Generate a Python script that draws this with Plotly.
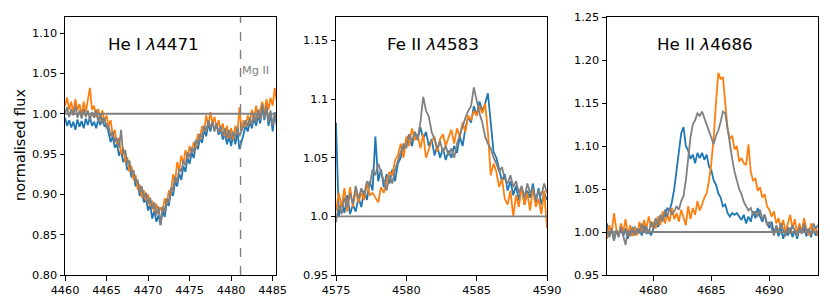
import numpy as np
import plotly.graph_objects as go

# ---------------- data ----------------
# Panel 1: He I 4471 (sampling 0.25 A from 4460.0)
wl1_start, wl1_step, n1 = 4460.0, 0.25, 103
hei_blue = [0.995, 0.985, 0.992, 0.983, 0.990, 0.980, 0.993, 0.984, 0.991, 0.982,
            0.994, 0.986, 0.996, 0.985, 0.990, 0.982, 0.993, 0.986, 0.995, 0.984,
            0.988, 0.976, 0.965, 0.972, 0.958, 0.963, 0.948, 0.955, 0.940, 0.946,
            0.930, 0.936, 0.921, 0.926, 0.910, 0.914, 0.898, 0.904, 0.890, 0.895,
            0.880, 0.888, 0.870, 0.880, 0.866, 0.874, 0.862, 0.880, 0.872, 0.890,
            0.886, 0.905, 0.898, 0.916, 0.910, 0.926, 0.918, 0.935, 0.928, 0.945,
            0.938, 0.952, 0.945, 0.962, 0.956, 0.970, 0.964, 0.980, 0.972, 0.988,
            0.978, 0.990, 0.980, 0.986, 0.974, 0.980, 0.968, 0.976, 0.962, 0.972,
            0.960, 0.974, 0.962, 0.978, 0.956, 0.965, 0.975, 0.985, 0.978, 0.990,
            0.982, 0.995, 0.985, 0.998, 0.988, 1.008, 0.992, 1.012, 0.985, 1.000,
            0.978, 1.002, 0.985]
hei_orange = [1.010, 1.020, 1.005, 1.015, 1.000, 1.018, 1.004, 1.012, 0.998, 1.015,
              1.002, 1.020, 1.032, 1.005, 1.010, 0.996, 1.006, 0.992, 1.004, 0.990,
              0.998, 0.985, 0.992, 0.972, 0.980, 0.962, 0.970, 0.950, 0.958, 0.940,
              0.946, 0.928, 0.935, 0.918, 0.924, 0.906, 0.912, 0.896, 0.905, 0.892,
              0.900, 0.885, 0.892, 0.878, 0.888, 0.876, 0.884, 0.878, 0.895, 0.888,
              0.905, 0.900, 0.925, 0.915, 0.940, 0.930, 0.948, 0.938, 0.955, 0.945,
              0.960, 0.952, 0.965, 0.958, 0.975, 0.968, 0.985, 0.978, 0.998, 0.985,
              1.002, 0.988, 0.996, 0.982, 0.992, 0.978, 0.988, 0.972, 0.985, 0.970,
              0.982, 0.968, 0.985, 0.975, 1.008, 0.980, 0.992, 0.984, 0.998, 0.988,
              1.005, 0.992, 1.010, 0.995, 1.005, 1.015, 1.000, 1.018, 1.005, 1.020,
              1.010, 1.032, 1.015]
hei_grey = [1.000, 1.008, 0.996, 1.006, 0.998, 1.010, 0.995, 1.004, 0.994, 1.006,
            0.996, 1.004, 0.992, 1.002, 0.995, 1.005, 0.990, 1.000, 0.988, 0.995,
            0.982, 0.985, 0.972, 0.978, 0.965, 0.970, 0.958, 0.980, 0.950, 0.955,
            0.938, 0.942, 0.926, 0.930, 0.915, 0.918, 0.902, 0.910, 0.895, 0.902,
            0.888, 0.896, 0.882, 0.890, 0.874, 0.885, 0.862, 0.885, 0.878, 0.895,
            0.890, 0.908, 0.905, 0.922, 0.915, 0.932, 0.928, 0.942, 0.936, 0.952,
            0.946, 0.958, 0.952, 0.968, 0.962, 0.975, 0.970, 0.985, 0.978, 0.992,
            0.982, 0.990, 0.978, 0.988, 0.976, 0.985, 0.972, 0.982, 0.970, 0.980,
            0.968, 0.978, 0.970, 0.984, 0.972, 0.980, 0.985, 0.992, 0.984, 0.995,
            0.986, 1.000, 0.990, 1.005, 0.992, 1.012, 0.995, 1.008, 0.990, 1.004,
            0.985, 1.000, 0.988]

# Panel 2: Fe II 4583 (sampling 0.2 A from 4575.0)
wl2_start, wl2_step, n2 = 4575.0, 0.2, 76
feii_blue = [1.080, 1.000, 1.012, 1.003, 1.018, 1.002, 1.010, 1.004, 1.016, 1.008,
             1.022, 1.014, 1.030, 1.022, 1.068, 1.030, 1.040, 1.025, 1.036, 1.028,
             1.040, 1.030, 1.045, 1.050, 1.058, 1.064, 1.070, 1.060, 1.072, 1.065,
             1.076, 1.066, 1.072, 1.060, 1.066, 1.052, 1.060, 1.050, 1.058, 1.048,
             1.056, 1.050, 1.060, 1.054, 1.068, 1.060, 1.075, 1.085, 1.080, 1.094,
             1.086, 1.098, 1.090, 1.096, 1.105, 1.080, 1.055, 1.050, 1.040, 1.030,
             1.036, 1.022, 1.030, 1.018, 1.026, 1.014, 1.025, 1.010, 1.022, 1.016,
             1.028, 1.012, 1.024, 1.010, 1.020, 1.014]
feii_orange = [1.005, 1.020, 1.008, 1.024, 1.004, 1.025, 1.008, 1.022, 1.012, 1.020,
               1.014, 1.028, 1.018, 1.020, 1.016, 1.012, 1.025, 1.020, 1.030, 1.038,
               1.035, 1.048, 1.052, 1.062, 1.050, 1.068, 1.060, 1.075, 1.065, 1.070,
               1.058, 1.070, 1.050, 1.058, 1.064, 1.068, 1.055, 1.066, 1.070, 1.060,
               1.068, 1.074, 1.062, 1.075, 1.068, 1.080, 1.072, 1.086, 1.082, 1.090,
               1.086, 1.094, 1.088, 1.096, 1.072, 1.035, 1.045, 1.038, 1.025, 1.032,
               1.015, 1.010, 1.022, 1.000, 1.018, 1.008, 1.025, 1.010, 1.020, 1.005,
               1.024, 1.008, 1.015, 1.002, 1.022, 0.990]
feii_grey = [0.995, 1.010, 1.002, 1.016, 1.008, 1.020, 1.010, 1.026, 1.015, 1.024,
             1.018, 1.030, 1.026, 1.040, 1.035, 1.045, 1.038, 1.030, 1.022, 1.035,
             1.028, 1.040, 1.048, 1.056, 1.062, 1.058, 1.070, 1.064, 1.072, 1.066,
             1.080, 1.102, 1.090, 1.085, 1.072, 1.066, 1.058, 1.064, 1.055, 1.060,
             1.052, 1.058, 1.050, 1.062, 1.070, 1.078, 1.084, 1.090, 1.094, 1.110,
             1.098, 1.088, 1.080, 1.068, 1.062, 1.058, 1.050, 1.045, 1.038, 1.042,
             1.032, 1.028, 1.035, 1.025, 1.030, 1.020, 1.026, 1.016, 1.028, 1.020,
             1.024, 1.014, 1.022, 1.018, 1.028, 1.020]

# Panel 3: He II 4686 (sampling 0.2 A from 4676.0)
wl3_start, wl3_step, n3 = 4676.0, 0.2, 92
heii_blue = [1.010, 0.995, 1.005, 0.990, 1.002, 0.994, 1.006, 0.995, 1.004, 0.992,
             1.002, 0.996, 1.006, 0.998, 1.004, 0.996, 1.008, 0.998, 1.002, 0.996,
             1.004, 1.010, 1.006, 1.014, 1.020, 1.018, 1.028, 1.025, 1.035, 1.050,
             1.070, 1.090, 1.115, 1.122, 1.100, 1.095, 1.085, 1.090, 1.080, 1.092,
             1.086, 1.092, 1.084, 1.090, 1.076, 1.072, 1.060, 1.055, 1.045, 1.040,
             1.030, 1.032, 1.022, 1.018, 1.022, 1.020, 1.022, 1.018, 1.014, 1.020,
             1.010, 1.018, 1.012, 1.024, 1.016, 1.028, 1.018, 1.012, 1.020, 1.010,
             1.005, 1.012, 0.998, 1.006, 0.995, 1.004, 0.992, 1.002, 0.996, 1.005,
             0.994, 1.002, 0.992, 1.004, 0.998, 1.006, 0.995, 1.002, 0.994, 1.004,
             0.996, 1.000]
heii_orange = [0.992, 1.008, 0.998, 1.022, 1.004, 0.995, 1.010, 1.000, 1.015, 0.996,
               1.008, 0.995, 1.005, 0.996, 1.012, 1.000, 1.014, 1.004, 1.018, 1.006,
               1.012, 1.004, 1.018, 1.008, 1.024, 1.010, 1.020, 1.012, 1.028, 1.015,
               1.022, 1.012, 1.026, 1.018, 1.008, 1.030, 1.015, 1.028, 1.020, 1.036,
               1.025, 1.032, 1.040, 1.045, 1.060, 1.080, 1.110, 1.150, 1.185, 1.178,
               1.180, 1.150, 1.120, 1.108, 1.112, 1.096, 1.100, 1.082, 1.086, 1.080,
               1.078, 1.102, 1.070, 1.060, 1.062, 1.048, 1.052, 1.040, 1.044, 1.030,
               1.026, 1.018, 1.024, 1.010, 1.016, 1.004, 1.014, 1.000, 1.010, 1.020,
               1.004, 1.015, 0.998, 1.010, 1.000, 1.016, 1.004, 0.996, 1.010, 1.000,
               1.006, 0.995]
heii_grey = [1.000, 0.994, 1.004, 0.990, 1.002, 0.996, 1.006, 0.994, 0.985, 1.002,
             0.995, 1.006, 0.996, 1.004, 0.998, 1.010, 1.000, 1.006, 0.998, 1.012,
             1.004, 1.016, 1.008, 1.020, 1.012, 1.026, 1.018, 1.028, 1.020, 1.024,
             1.030, 1.026, 1.036, 1.042, 1.060, 1.085, 1.110, 1.125, 1.130, 1.138,
             1.135, 1.140, 1.132, 1.125, 1.118, 1.108, 1.102, 1.112, 1.118, 1.128,
             1.140, 1.138, 1.120, 1.100, 1.085, 1.070, 1.060, 1.050, 1.044, 1.035,
             1.030, 1.025, 1.028, 1.020, 1.024, 1.018, 1.026, 1.015, 1.020, 1.008,
             1.012, 1.004, 0.996, 1.008, 1.000, 1.010, 1.002, 0.995, 1.006, 0.998,
             1.008, 1.002, 0.995, 1.006, 0.998, 1.010, 1.000, 1.004, 0.996, 1.010,
             1.004, 1.008]

titles = ["He I <i>λ</i>4471", "Fe II <i>λ</i>4583", "He II <i>λ</i>4686"]
x_ranges = [[4460, 4485.4], [4575, 4590], [4676, 4694.2]]
y_ranges = [[0.80, 1.12], [0.95, 1.17], [0.95, 1.25]]
x_ticks = [[4460, 4465, 4470, 4475, 4480, 4485], [4575, 4580, 4585, 4590], [4680, 4685, 4690]]
y_ticks = [[0.80, 0.85, 0.90, 0.95, 1.00, 1.05, 1.10],
           [0.95, 1.00, 1.05, 1.10, 1.15],
           [0.95, 1.00, 1.05, 1.10, 1.15, 1.20, 1.25]]
y_ticktext = [["0.80", "0.85", "0.90", "0.95", "1.00", "1.05", "1.10"],
              ["0.95", "1.0", "1.05", "1.1", "1.15"],
              ["0.95", "1.00", "1.05", "1.10", "1.15", "1.20", "1.25"]]
mg_ii_wl = 4481.13
mg_ii_label = "Mg II"
continuum = 1.0

# ---------------- figure ----------------
W, H = 830, 307
OFF = 8  # page body margin offset in the browser


def px_x(p):
    return (p - OFF) / W


def px_y(p):
    return 1 - (p - OFF) / H


colors = {"blue": "#1f77b4", "orange": "#ff7f0e", "grey": "#808080"}
panels = [
    (wl1_start, wl1_step, n1, hei_blue, hei_orange, hei_grey),
    (wl2_start, wl2_step, n2, feii_blue, feii_orange, feii_grey),
    (wl3_start, wl3_step, n3, heii_blue, heii_orange, heii_grey),
]
x_domains = [[px_x(65), px_x(276)], [px_x(336), px_x(547)], [px_x(607), px_x(818)]]
y_domain = [px_y(275), px_y(17)]
title_x = [px_x(153), px_x(433), px_x(705)]
title_y = px_y(44)

fig = go.Figure()
for k, (start, step, n, b, o, g) in enumerate(panels):
    wl = np.round(start + step * np.arange(n), 3)
    xa = "x" if k == 0 else f"x{k+1}"
    ya = "y" if k == 0 else f"y{k+1}"
    for vals, c in ((b, "blue"), (o, "orange"), (g, "grey")):
        fig.add_trace(go.Scatter(x=wl, y=vals, mode="lines", xaxis=xa, yaxis=ya,
                                 line=dict(color=colors[c], width=1.8),
                                 showlegend=False, hoverinfo="skip"))
    fig.add_trace(go.Scatter(x=x_ranges[k], y=[continuum, continuum], mode="lines",
                             xaxis=xa, yaxis=ya, line=dict(color="#808080", width=1.8),
                             showlegend=False, hoverinfo="skip"))
    axis_common = dict(showline=True, mirror=True, linecolor="black", linewidth=1,
                       ticks="outside", ticklen=4.5, tickwidth=1, tickcolor="black",
                       showgrid=False, zeroline=False, automargin=False,
                       tickfont=dict(size=11.3, color="black", family="DejaVu Sans"))
    xkey = "xaxis" if k == 0 else f"xaxis{k+1}"
    ykey = "yaxis" if k == 0 else f"yaxis{k+1}"
    fig.update_layout(**{
        xkey: dict(domain=x_domains[k], range=x_ranges[k], anchor=ya,
                   tickvals=x_ticks[k], **axis_common),
        ykey: dict(domain=y_domain, range=y_ranges[k], anchor=xa,
                   tickvals=y_ticks[k], ticktext=y_ticktext[k], **axis_common),
    })
    fig.add_annotation(text=titles[k], xref="paper", yref="paper",
                       x=title_x[k], y=title_y,
                       showarrow=False, xanchor="center", yanchor="middle",
                       font=dict(size=16.7, color="black", family="DejaVu Sans"))

# Mg II marker
fig.add_shape(type="line", xref="x", yref="y", x0=mg_ii_wl, x1=mg_ii_wl,
              y0=y_ranges[0][0], y1=y_ranges[0][1],
              line=dict(color="#808080", width=1.4, dash="dash"))
fig.add_annotation(text=mg_ii_label, xref="x", yref="y", x=mg_ii_wl, y=1.054,
                   xanchor="left", yanchor="middle", showarrow=False, xshift=-1,
                   font=dict(size=11.3, color="#808080", family="DejaVu Sans"))

fig.add_annotation(text="normalised flux", xref="paper", yref="paper",
                   x=px_x(20), y=px_y(145), textangle=-90, showarrow=False,
                   xanchor="center", yanchor="middle",
                   font=dict(size=14.5, color="black", family="DejaVu Sans"))

fig.update_layout(template="none", width=W, height=H,
                  margin=dict(l=0, r=0, t=0, b=0, autoexpand=False),
                  paper_bgcolor="white", plot_bgcolor="white",
                  font=dict(family="DejaVu Sans"))
fig.write_html("out.html")
